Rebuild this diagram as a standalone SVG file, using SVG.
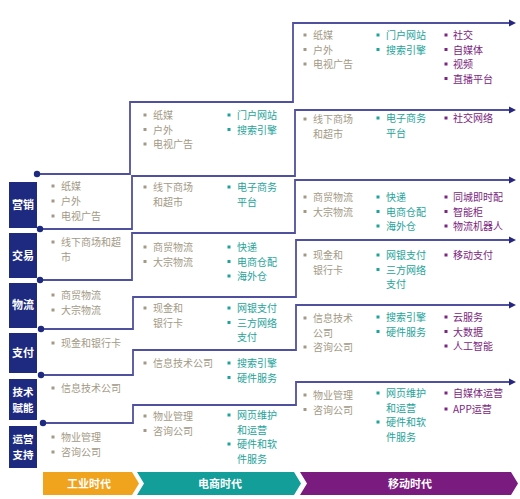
<svg xmlns="http://www.w3.org/2000/svg" width="520" height="499" viewBox="0 0 520 499">
<defs>
<marker id="arr" markerUnits="userSpaceOnUse" markerWidth="8" markerHeight="8" refX="1" refY="4" orient="auto">
<path d="M0,0.5 L7,4 L0,7.5 z" fill="#27277f"/>
</marker>
<style>
text{font-family:"Noto Sans CJK SC","Noto Sans",sans-serif;font-size:10px}
.t{fill:#a39a86}.g{fill:#1ea39a}.p{fill:#7b2580}
.lb{fill:#1d2a80}
.lt{fill:#fff;font-weight:bold;font-size:11px;text-anchor:middle}
.lt2{fill:#fff;font-weight:bold;font-size:10.5px;text-anchor:middle}
.ln{fill:none;stroke:#5050a0;stroke-width:1.8}
.dot{fill:#1d2a80}
.era{fill:#fff;font-weight:bold;font-size:11px;text-anchor:middle}
</style>
</defs>
<rect width="520" height="499" fill="#fff"/>

<g id="connectors">
<path class="ln" marker-end="url(#arr)" d="M37,174 H130 V102 H293 V23 H510"/>
<path class="ln" marker-end="url(#arr)" d="M40,229 H132 V176 H295 V110 H510"/>
<path class="ln" marker-end="url(#arr)" d="M40,280 H132 V233 H295 V180 H510"/>
<path class="ln" marker-end="url(#arr)" d="M41,329 H133 V297 H296 V240 H510"/>
<path class="ln" marker-end="url(#arr)" d="M41,375 H133 V350 H296 V305 H510"/>
<path class="ln" marker-end="url(#arr)" d="M43,423 H133 V405 H296 V382 H510"/>
<circle class="dot" cx="37" cy="174" r="3.2"/>
<circle class="dot" cx="40" cy="229" r="3.2"/>
<circle class="dot" cx="40" cy="280" r="3.2"/>
<circle class="dot" cx="41" cy="329" r="3.2"/>
<circle class="dot" cx="41" cy="375" r="3.2"/>
<circle class="dot" cx="43" cy="423" r="3.2"/>
</g>

<g id="label-yingxiao"><rect class="lb" x="9" y="182" width="28" height="46"/><text class="lt" x="23" y="209">营销</text></g>
<g id="label-jiaoyi"><rect class="lb" x="9" y="233" width="28" height="45"/><text class="lt" x="23" y="260">交易</text></g>
<g id="label-wuliu"><rect class="lb" x="9" y="283" width="28" height="45"/><text class="lt" x="23" y="309">物流</text></g>
<g id="label-zhifu"><rect class="lb" x="9" y="333" width="28" height="40"/><text class="lt" x="23" y="357">支付</text></g>
<g id="label-jishu"><rect class="lb" x="9" y="379" width="28" height="41"/><text class="lt2" x="23" y="395.5">技术</text><text class="lt2" x="23" y="411.5">赋能</text></g>
<g id="label-yunying"><rect class="lb" x="9" y="426" width="28" height="42"/><text class="lt2" x="23" y="443">运营</text><text class="lt2" x="23" y="459">支持</text></g>

<g id="industrial">
<rect class="t" x="51.5" y="184.5" width="3" height="3"/><text class="t" x="61" y="190">纸媒</text>
<rect class="t" x="51.5" y="199.5" width="3" height="3"/><text class="t" x="61" y="205">户外</text>
<rect class="t" x="51.5" y="214.5" width="3" height="3"/><text class="t" x="61" y="220">电视广告</text>
<rect class="t" x="51.5" y="240.5" width="3" height="3"/><text class="t" x="61" y="246">线下商场和超</text>
<text class="t" x="61" y="261">市</text>
<rect class="t" x="51.5" y="293.5" width="3" height="3"/><text class="t" x="61" y="299">商贸物流</text>
<rect class="t" x="51.5" y="308.5" width="3" height="3"/><text class="t" x="61" y="314">大宗物流</text>
<rect class="t" x="51.5" y="341.5" width="3" height="3"/><text class="t" x="61" y="347">现金和银行卡</text>
<rect class="t" x="51.5" y="386.5" width="3" height="3"/><text class="t" x="61" y="392">信息技术公司</text>
<rect class="t" x="51.5" y="435.5" width="3" height="3"/><text class="t" x="61" y="441">物业管理</text>
<rect class="t" x="51.5" y="450.5" width="3" height="3"/><text class="t" x="61" y="456">咨询公司</text>
</g>

<g id="ecommerce">
<rect class="t" x="143.5" y="113.5" width="3" height="3"/><text class="t" x="153" y="119">纸媒</text>
<rect class="t" x="143.5" y="128" width="3" height="3"/><text class="t" x="153" y="133.5">户外</text>
<rect class="t" x="143.5" y="142.5" width="3" height="3"/><text class="t" x="153" y="148">电视广告</text>
<rect class="g" x="227.5" y="113.5" width="3" height="3"/><text class="g" x="237" y="119">门户网站</text>
<rect class="g" x="227.5" y="128" width="3" height="3"/><text class="g" x="237" y="133.5">搜索引擎</text>

<rect class="t" x="143.5" y="185.5" width="3" height="3"/><text class="t" x="153" y="191">线下商场</text>
<text class="t" x="153" y="205.5">和超市</text>
<rect class="g" x="227.5" y="185.5" width="3" height="3"/><text class="g" x="237" y="191">电子商务</text>
<text class="g" x="237" y="205.5">平台</text>

<rect class="t" x="143.5" y="245.5" width="3" height="3"/><text class="t" x="153" y="251">商贸物流</text>
<rect class="t" x="143.5" y="260" width="3" height="3"/><text class="t" x="153" y="265.5">大宗物流</text>
<rect class="g" x="227.5" y="245.5" width="3" height="3"/><text class="g" x="237" y="251">快递</text>
<rect class="g" x="227.5" y="260" width="3" height="3"/><text class="g" x="237" y="265.5">电商仓配</text>
<rect class="g" x="227.5" y="274.5" width="3" height="3"/><text class="g" x="237" y="280">海外仓</text>

<rect class="t" x="143.5" y="306.5" width="3" height="3"/><text class="t" x="153" y="312">现金和</text>
<text class="t" x="153" y="326.5">银行卡</text>
<rect class="g" x="227.5" y="306.5" width="3" height="3"/><text class="g" x="237" y="312">网银支付</text>
<rect class="g" x="227.5" y="321" width="3" height="3"/><text class="g" x="237" y="326.5">三方网络</text>
<text class="g" x="237" y="341">支付</text>

<rect class="t" x="143.5" y="361.5" width="3" height="3"/><text class="t" x="153" y="367">信息技术公司</text>
<rect class="g" x="227.5" y="361.5" width="3" height="3"/><text class="g" x="237" y="367">搜索引擎</text>
<rect class="g" x="227.5" y="376" width="3" height="3"/><text class="g" x="237" y="381.5">硬件服务</text>

<rect class="t" x="143.5" y="414.5" width="3" height="3"/><text class="t" x="153" y="420">物业管理</text>
<rect class="t" x="143.5" y="429" width="3" height="3"/><text class="t" x="153" y="434.5">咨询公司</text>
<rect class="g" x="227.5" y="413.5" width="3" height="3"/><text class="g" x="237" y="419">网页维护</text>
<text class="g" x="237" y="433.5">和运营</text>
<rect class="g" x="227.5" y="442.5" width="3" height="3"/><text class="g" x="237" y="448">硬件和软</text>
<text class="g" x="237" y="462.5">件服务</text>
</g>

<g id="mobile">
<rect class="t" x="303.5" y="33.5" width="3" height="3"/><text class="t" x="313" y="39">纸媒</text>
<rect class="t" x="303.5" y="48" width="3" height="3"/><text class="t" x="313" y="53.5">户外</text>
<rect class="t" x="303.5" y="62.5" width="3" height="3"/><text class="t" x="313" y="68">电视广告</text>
<rect class="g" x="376.5" y="33.5" width="3" height="3"/><text class="g" x="386" y="39">门户网站</text>
<rect class="g" x="376.5" y="48" width="3" height="3"/><text class="g" x="386" y="53.5">搜索引擎</text>
<rect class="p" x="444.5" y="33.5" width="3" height="3"/><text class="p" x="453" y="39">社交</text>
<rect class="p" x="444.5" y="48" width="3" height="3"/><text class="p" x="453" y="53.5">自媒体</text>
<rect class="p" x="444.5" y="62.5" width="3" height="3"/><text class="p" x="453" y="68">视频</text>
<rect class="p" x="444.5" y="77" width="3" height="3"/><text class="p" x="453" y="82.5">直播平台</text>

<rect class="t" x="303.5" y="117.5" width="3" height="3"/><text class="t" x="313" y="123">线下商场</text>
<text class="t" x="313" y="137.5">和超市</text>
<rect class="g" x="376.5" y="116.5" width="3" height="3"/><text class="g" x="386" y="122">电子商务</text>
<text class="g" x="386" y="136.5">平台</text>
<rect class="p" x="444.5" y="116.5" width="3" height="3"/><text class="p" x="453" y="122">社交网络</text>

<rect class="t" x="303.5" y="195.5" width="3" height="3"/><text class="t" x="313" y="201">商贸物流</text>
<rect class="t" x="303.5" y="210" width="3" height="3"/><text class="t" x="313" y="215.5">大宗物流</text>
<rect class="g" x="376.5" y="195.5" width="3" height="3"/><text class="g" x="386" y="201">快递</text>
<rect class="g" x="376.5" y="210" width="3" height="3"/><text class="g" x="386" y="215.5">电商仓配</text>
<rect class="g" x="376.5" y="224.5" width="3" height="3"/><text class="g" x="386" y="230">海外仓</text>
<rect class="p" x="444.5" y="195.5" width="3" height="3"/><text class="p" x="453" y="201">同城即时配</text>
<rect class="p" x="444.5" y="210" width="3" height="3"/><text class="p" x="453" y="215.5">智能柜</text>
<rect class="p" x="444.5" y="224.5" width="3" height="3"/><text class="p" x="453" y="230">物流机器人</text>

<rect class="t" x="303.5" y="253.5" width="3" height="3"/><text class="t" x="313" y="259">现金和</text>
<text class="t" x="313" y="273.5">银行卡</text>
<rect class="g" x="376.5" y="253.5" width="3" height="3"/><text class="g" x="386" y="259">网银支付</text>
<rect class="g" x="376.5" y="268" width="3" height="3"/><text class="g" x="386" y="273.5">三方网络</text>
<text class="g" x="386" y="288">支付</text>
<rect class="p" x="444.5" y="253.5" width="3" height="3"/><text class="p" x="453" y="259">移动支付</text>

<rect class="t" x="303.5" y="316.5" width="3" height="3"/><text class="t" x="313" y="322">信息技术</text>
<text class="t" x="313" y="336.5">公司</text>
<rect class="t" x="303.5" y="345.5" width="3" height="3"/><text class="t" x="313" y="351">咨询公司</text>
<rect class="g" x="376.5" y="315.5" width="3" height="3"/><text class="g" x="386" y="321">搜索引擎</text>
<rect class="g" x="376.5" y="330" width="3" height="3"/><text class="g" x="386" y="335.5">硬件服务</text>
<rect class="p" x="444.5" y="315.5" width="3" height="3"/><text class="p" x="453" y="321">云服务</text>
<rect class="p" x="444.5" y="330" width="3" height="3"/><text class="p" x="453" y="335.5">大数据</text>
<rect class="p" x="444.5" y="344.5" width="3" height="3"/><text class="p" x="453" y="350">人工智能</text>

<rect class="t" x="303.5" y="393.5" width="3" height="3"/><text class="t" x="313" y="399">物业管理</text>
<rect class="t" x="303.5" y="408" width="3" height="3"/><text class="t" x="313" y="413.5">咨询公司</text>
<rect class="g" x="376.5" y="391.5" width="3" height="3"/><text class="g" x="386" y="397">网页维护</text>
<text class="g" x="386" y="411.5">和运营</text>
<rect class="g" x="376.5" y="420.5" width="3" height="3"/><text class="g" x="386" y="426">硬件和软</text>
<text class="g" x="386" y="440.5">件服务</text>
<rect class="p" x="444.5" y="391.5" width="3" height="3"/><text class="p" x="453" y="397">自媒体运营</text>
<rect class="p" x="444.5" y="407.5" width="3" height="3"/><text class="p" x="453" y="413">APP运营</text>
</g>

<g id="eras">
<polygon fill="#f0a31c" points="43,472 132,472 139,483.5 132,495 43,495"/>
<text class="era" x="89" y="487.5">工业时代</text>
<polygon fill="#139e9a" points="137,472 294,472 301,483.5 294,495 137,495 144,483.5"/>
<text class="era" x="220" y="487.5">电商时代</text>
<polygon fill="#7a1b7f" points="300,472 511,472 518,483.5 511,495 300,495 307,483.5"/>
<text class="era" x="410" y="487.5">移动时代</text>
</g>
</svg>
